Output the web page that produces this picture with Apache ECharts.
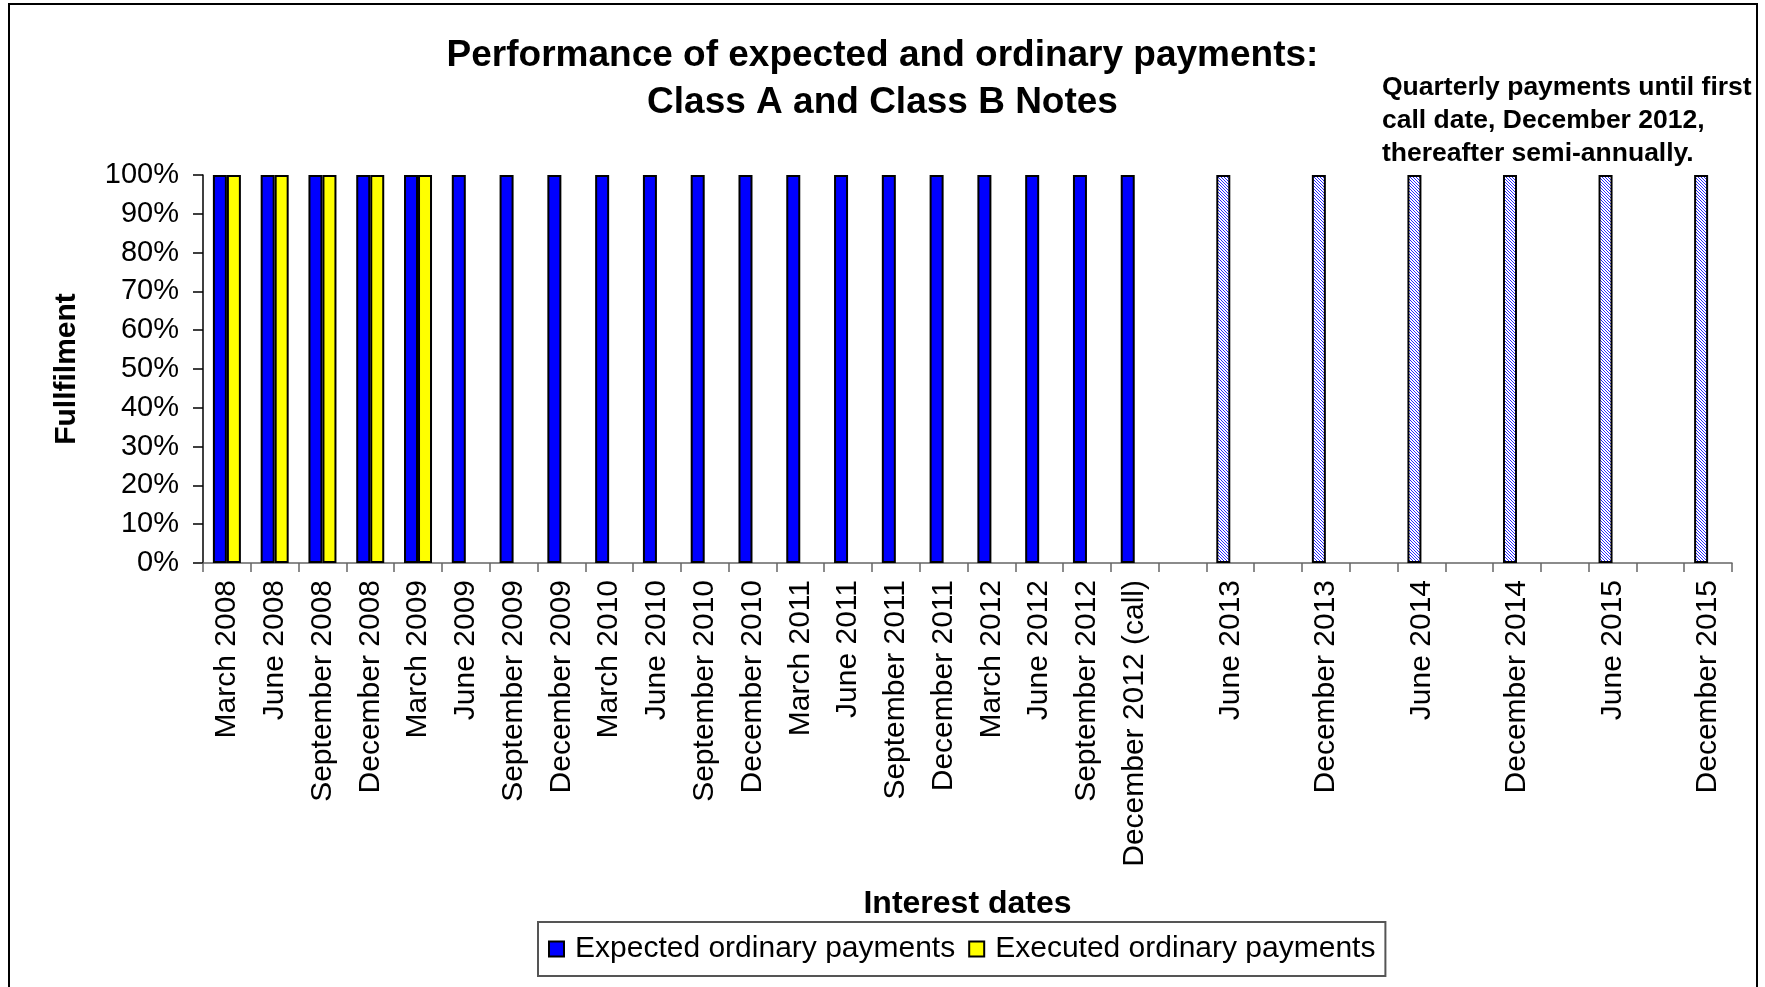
<!DOCTYPE html>
<html>
<head>
<meta charset="utf-8">
<title>Performance of expected and ordinary payments</title>
<script src="https://cdn.jsdelivr.net/npm/echarts@6/dist/echarts.min.js"></script>
<style>
  html, body { margin: 0; padding: 0; background: #fff; }
  #chart-container { width: 1765px; height: 987px; }
</style>
</head>
<body>
<div id="chart-container"></div>
<script>
// interest dates, quarterly until the call date, then only June/December are paid
var categories = [
  "March 2008", "June 2008", "September 2008", "December 2008",
  "March 2009", "June 2009", "September 2009", "December 2009",
  "March 2010", "June 2010", "September 2010", "December 2010",
  "March 2011", "June 2011", "September 2011", "December 2011",
  "March 2012", "June 2012", "September 2012", "December 2012 (call)",
  "March 2013", "June 2013", "September 2013", "December 2013",
  "March 2014", "June 2014", "September 2014", "December 2014",
  "March 2015", "June 2015", "September 2015", "December 2015"
];
var tickLabels = [
  "March 2008", "June 2008", "September 2008", "December 2008",
  "March 2009", "June 2009", "September 2009", "December 2009",
  "March 2010", "June 2010", "September 2010", "December 2010",
  "March 2011", "June 2011", "September 2011", "December 2011",
  "March 2012", "June 2012", "September 2012", "December 2012 (call)",
  "", "June 2013", "", "December 2013",
  "", "June 2014", "", "December 2014",
  "", "June 2015", "", "December 2015"
];
var expected = [
  100, 100, 100, 100, 100, 100, 100, 100, 100, 100,
  100, 100, 100, 100, 100, 100, 100, 100, 100, 100,
  null, 100, null, 100, null, 100, null, 100, null, 100, null, 100
];
var executed = [
  100, 100, 100, 100, 100, null, null, null, null, null,
  null, null, null, null, null, null, null, null, null, null,
  null, null, null, null, null, null, null, null, null, null, null, null
];
var forecastFrom = "June 2013"; // hatched bars from here on
var yTicks = { min: 0, max: 100, step: 10 };

function makeHatch() {
  var c = document.createElement("canvas");
  c.width = 3;
  c.height = 3;
  var ctx = c.getContext("2d");
  ctx.fillStyle = "#ffffff";
  ctx.fillRect(0, 0, 3, 3);
  ctx.fillStyle = "#2a2aff";
  for (var i = 0; i < 3; i++) ctx.fillRect(i, i, 1, 1);
  return c;
}

var dom = document.getElementById("chart-container");
var myChart = echarts.init(dom);
var hatch = { image: makeHatch(), repeat: "repeat" };
var forecastStart = categories.indexOf(forecastFrom);

var expectedData = expected.map(function (v, i) {
  if (i >= forecastStart && v !== null) {
    return { value: v, itemStyle: { color: hatch } };
  }
  return v;
});

var font = "Liberation Sans";
var option = {
  animation: false,
  backgroundColor: "#fff",
  textStyle: { fontFamily: font },
  title: [
    {
      text: "Performance of expected and ordinary payments:\nClass A and Class B Notes",
      left: "center",
      top: 32,
      padding: 0,
      textStyle: { fontFamily: font, fontSize: 37, fontWeight: "bold", lineHeight: 47, color: "#000" }
    },
    {
      text: "Quarterly payments until first\ncall date, December 2012,\nthereafter semi-annually.",
      left: 1382,
      top: 71,
      padding: 0,
      textStyle: { fontFamily: font, fontSize: 26.5, fontWeight: "bold", lineHeight: 33, color: "#000" }
    }
  ],
  graphic: [
    {
      type: "rect",
      shape: { x: 9, y: 4, width: 1748, height: 1000 },
      style: { fill: null, stroke: "#000", lineWidth: 2 },
      silent: true
    }
  ],
  legend: {
    left: 538,
    top: 922,
    padding: [12, 10, 12, 10],
    itemGap: 13,
    itemWidth: 15,
    itemHeight: 15,
    icon: "rect",
    borderColor: "#555",
    borderWidth: 2,
    textStyle: { fontFamily: font, fontSize: 30, color: "#000", padding: [0, 0, 0, 6] },
    data: ["Expected ordinary payments", "Executed ordinary payments"]
  },
  grid: { left: 203, right: 33, top: 175, bottom: 424, containLabel: false },
  xAxis: {
    type: "category",
    data: categories,
    name: "Interest dates",
    nameLocation: "middle",
    nameGap: 325,
    nameTextStyle: { fontFamily: font, fontSize: 32, fontWeight: "bold", color: "#000" },
    axisLine: { lineStyle: { color: "#666", width: 1.5 } },
    axisTick: { show: true, length: 9, interval: 0, lineStyle: { color: "#666", width: 1.5 } },
    axisLabel: {
      interval: 0,
      rotate: 90,
      margin: 17,
      fontSize: 30,
      color: "#000",
      formatter: function (value, index) { return tickLabels[index]; }
    },
    splitLine: { show: false }
  },
  yAxis: {
    type: "value",
    min: yTicks.min,
    max: yTicks.max,
    interval: yTicks.step,
    name: "Fullfilment",
    nameLocation: "middle",
    nameGap: 121,
    nameRotate: 90,
    nameTextStyle: { fontFamily: font, fontSize: 30, fontWeight: "bold", color: "#000" },
    axisLine: { show: true, lineStyle: { color: "#000", width: 1.5 } },
    axisTick: { show: true, length: 10, lineStyle: { color: "#000", width: 1.5 } },
    axisLabel: { formatter: "{value}%", fontSize: 29, color: "#000", margin: 24 },
    splitLine: { show: false }
  },
  series: [
    {
      name: "Expected ordinary payments",
      type: "bar",
      barWidth: 14,
      barGap: "0%",
      data: expectedData,
      itemStyle: { color: "#0000ff", borderColor: "#000", borderWidth: 2 }
    },
    {
      name: "Executed ordinary payments",
      type: "bar",
      barWidth: 14,
      barGap: "0%",
      data: executed,
      itemStyle: { color: "#ffff00", borderColor: "#000", borderWidth: 2 }
    }
  ]
};

if (option && typeof option === "object") {
  myChart.setOption(option, true);
}
</script>
</body>
</html>
